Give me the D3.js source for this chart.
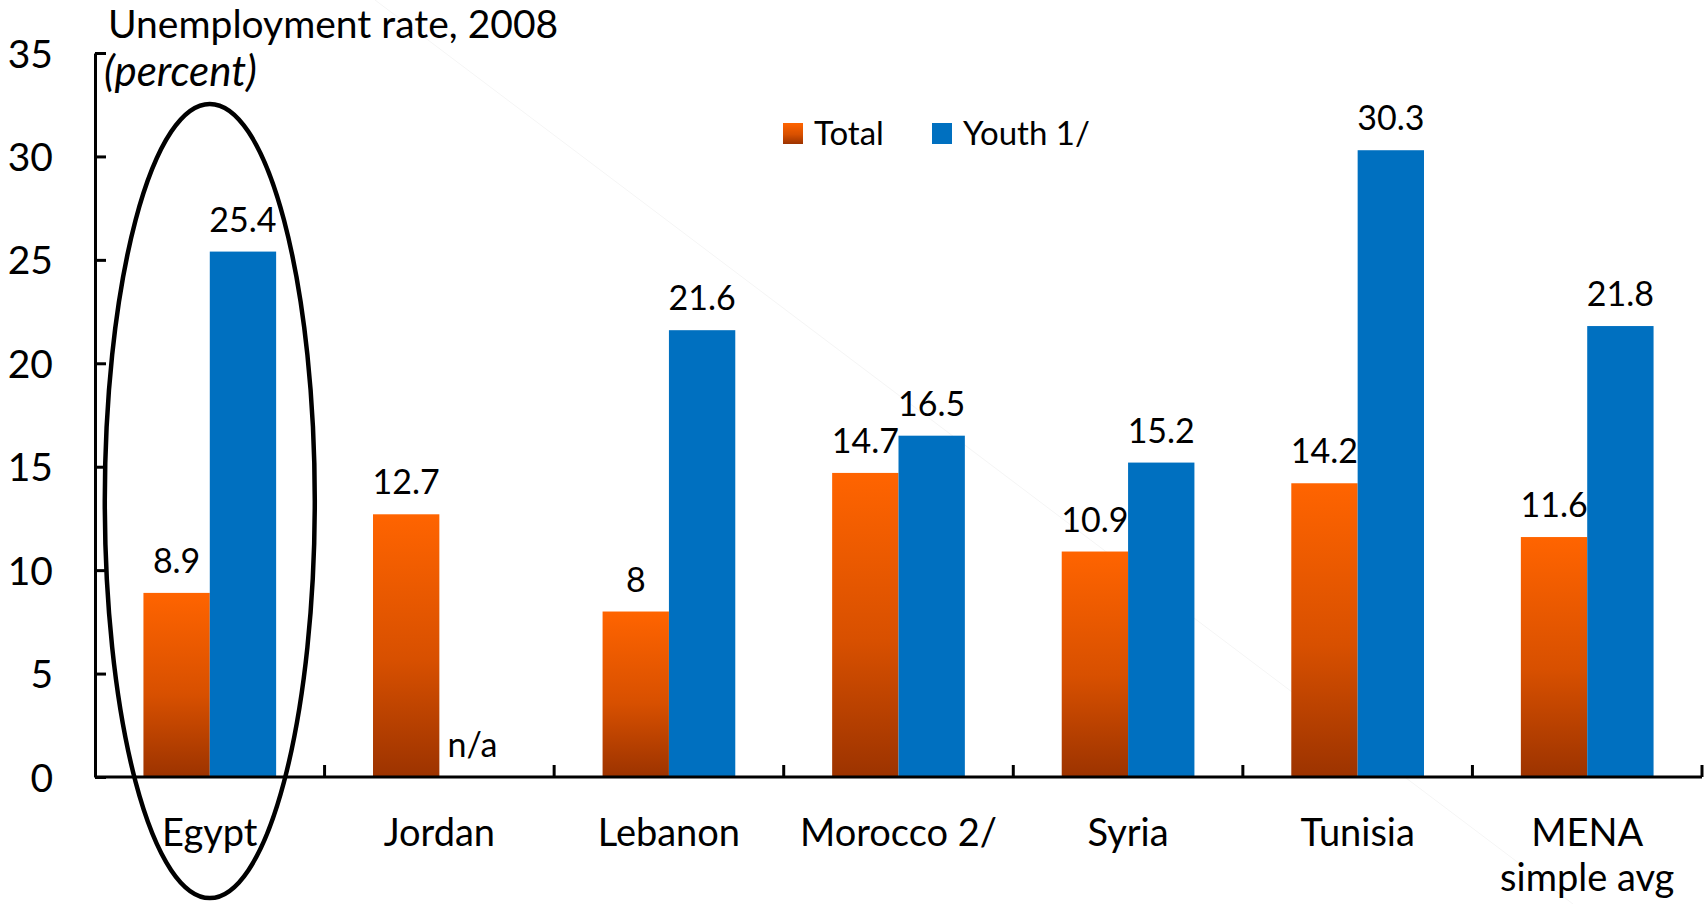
<!DOCTYPE html>
<html>
<head>
<meta charset="utf-8">
<script src="https://cdn.jsdelivr.net/npm/d3@7"></script>
<style>
  body { margin:0; background:#fff; }
  svg text { font-family: Lato, "Open Sans", sans-serif; fill:#000; }
</style>
</head>
<body>
<svg id="chart" width="1706" height="904"></svg>
<script>
// data
var categories = ["Egypt", "Jordan", "Lebanon", "Morocco 2/", "Syria", "Tunisia", "MENA\nsimple avg"];
var total = [8.9, 12.7, 8, 14.7, 10.9, 14.2, 11.6];
var youth = [25.4, null, 21.6, 16.5, 15.2, 30.3, 21.8];
var yTicks = [0, 5, 10, 15, 20, 25, 30, 35];
var seriesNames = ["Total", "Youth 1/"];

var svg = d3.select("#chart");

var x = d3.scaleBand().domain(categories).range([95, 1702]).paddingInner(0).paddingOuter(0);
var xs = d3.scaleBand().domain(["total", "youth"]).range([0, x.bandwidth()]).paddingInner(0).paddingOuter(0.73);
var y = d3.scaleLinear().domain([0, 35]).range([777, 53]);

// gradient for the total bars
var defs = svg.append("defs");
var grad = defs.append("linearGradient").attr("id", "orangeGrad")
  .attr("x1", 0).attr("y1", 0).attr("x2", 0).attr("y2", 1);
grad.append("stop").attr("offset", "0%").attr("stop-color", "#ff6400");
grad.append("stop").attr("offset", "55%").attr("stop-color", "#d85000");
grad.append("stop").attr("offset", "100%").attr("stop-color", "#9c3300");

// faint diagonal line in the background
svg.append("line")
  .attr("x1", 375).attr("y1", 0).attr("x2", 1573).attr("y2", 904)
  .attr("stroke", "#f5f5f5").attr("stroke-width", 1);

var rows = categories.map(function(c, i){ return {cat:c, total:total[i], youth:youth[i]}; });

var g = svg.append("g");

// total bars
g.selectAll("rect.total").data(rows).enter().append("rect")
  .attr("class", "total")
  .attr("x", function(d){ return x(d.cat) + xs("total"); })
  .attr("y", function(d){ return y(d.total); })
  .attr("width", xs.bandwidth())
  .attr("height", function(d){ return y(0) - y(d.total); })
  .attr("fill", "url(#orangeGrad)");

// youth bars
g.selectAll("rect.youth").data(rows.filter(function(d){ return d.youth != null; })).enter().append("rect")
  .attr("class", "youth")
  .attr("x", function(d){ return x(d.cat) + xs("youth"); })
  .attr("y", function(d){ return y(d.youth); })
  .attr("width", xs.bandwidth())
  .attr("height", function(d){ return y(0) - y(d.youth); })
  .attr("fill", "#0070c0");

// value labels
var labFont = 34;
g.selectAll("text.ltot").data(rows).enter().append("text")
  .attr("x", function(d){ return x(d.cat) + xs("total") + xs.bandwidth()/2; })
  .attr("y", function(d){ return y(d.total) - 20; })
  .attr("text-anchor", "middle")
  .style("font-size", labFont + "px")
  .text(function(d){ return d.total; });

g.selectAll("text.lyou").data(rows).enter().append("text")
  .attr("x", function(d){ return x(d.cat) + xs("youth") + xs.bandwidth()/2; })
  .attr("y", function(d){ return y(d.youth == null ? 0 : d.youth) - 20; })
  .attr("text-anchor", "middle")
  .style("font-size", labFont + "px")
  .text(function(d){ return d.youth == null ? "n/a" : d.youth; });

// y axis
var yAxis = d3.axisLeft(y).tickValues(yTicks).tickSizeInner(-11).tickSizeOuter(0).tickPadding(42);
var ya = svg.append("g").attr("transform", "translate(95,0)").call(yAxis);
ya.select(".domain").attr("stroke", "#000").attr("stroke-width", 3);
ya.selectAll(".tick line").attr("stroke", "#000").attr("stroke-width", 3);
ya.selectAll(".tick text").style("font-size", "39px").attr("dy", "0.36em");
ya.attr("font-family", null);

// x axis line + boundary ticks
svg.append("line").attr("x1", 95).attr("x2", 1702).attr("y1", y(0)).attr("y2", y(0))
  .attr("stroke", "#000").attr("stroke-width", 3);
var bounds = categories.map(function(c){ return x(c); }).concat([x.range()[1]]).slice(1);
svg.selectAll("line.xt").data(bounds).enter().append("line")
  .attr("x1", function(d){ return d; }).attr("x2", function(d){ return d; })
  .attr("y1", y(0)).attr("y2", y(0) - 12)
  .attr("stroke", "#000").attr("stroke-width", 3);

// category labels
svg.selectAll("text.cat").data(categories).enter().append("text")
  .attr("x", function(d){ return x(d) + x.bandwidth()/2; })
  .attr("y", 846)
  .attr("text-anchor", "middle")
  .style("font-size", "38px")
  .each(function(d){
    var t = d3.select(this);
    d.split("\n").forEach(function(s, i){
      t.append("tspan").attr("x", x(d) + x.bandwidth()/2).attr("dy", i == 0 ? 0 : 45).text(s);
    });
  });

// title
svg.append("text").attr("x", 108).attr("y", 38).style("font-size", "39px").text("Unemployment rate, 2008");
svg.append("text").attr("x", 104).attr("y", 86).style("font-size", "42px").style("font-style", "italic").text("(percent)");

// legend
var legX = [783, 932];
var lg = svg.selectAll("g.leg").data(seriesNames).enter().append("g")
  .attr("transform", function(d, i){ return "translate(" + legX[i] + ",123)"; });
lg.append("rect").attr("width", 20).attr("height", 21)
  .attr("fill", function(d, i){ return i == 0 ? "url(#orangeGrad)" : "#0070c0"; });
lg.append("text").attr("x", 31).attr("y", 22).style("font-size", "33px").text(function(d){ return d; });

// highlight ellipse around Egypt
svg.append("ellipse")
  .attr("cx", x("Egypt") + x.bandwidth()/2)
  .attr("cy", 501).attr("rx", 105).attr("ry", 397)
  .attr("fill", "none").attr("stroke", "#000").attr("stroke-width", 4.5);
</script>
</body>
</html>
